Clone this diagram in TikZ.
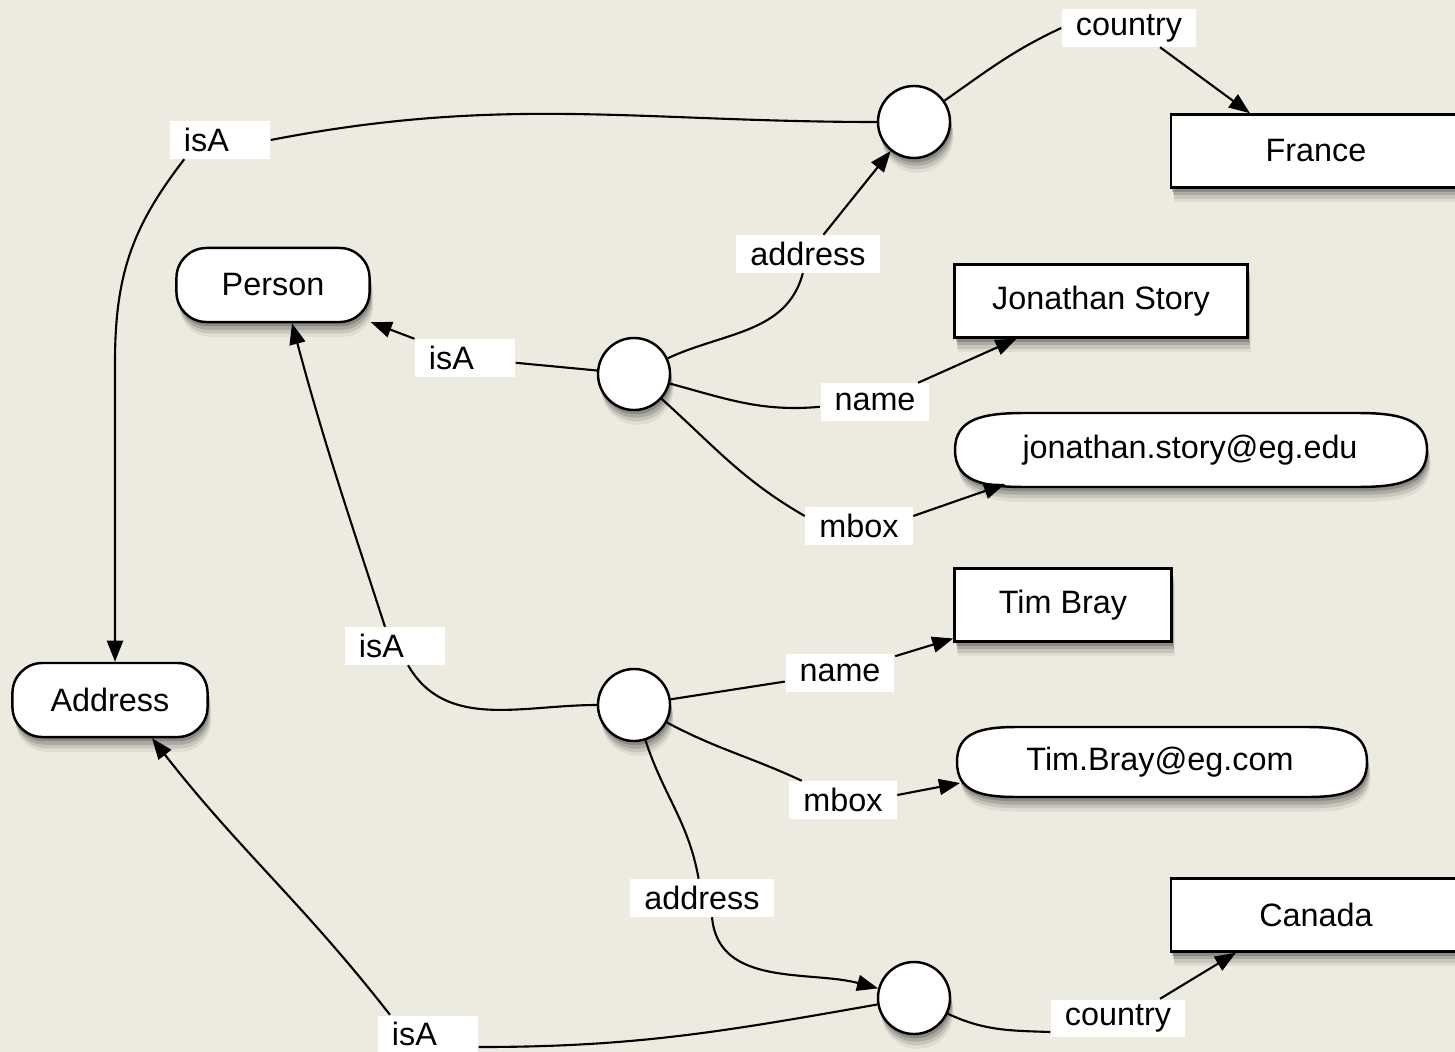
\documentclass[tikz,border=0pt]{standalone}
\usepackage{fontspec}
\setmainfont{Liberation Sans}
\usetikzlibrary{arrows.meta,shadows,calc}
\definecolor{paper}{RGB}{237,234,224}

% rounded pill outline round a centre: #1 centre, #2 half width, #3 half height, #4 end length
\newcommand{\pillpath}[4]{%
  \draw[pill] ($(#1)+(-#2,0)$)
    .. controls ($(#1)+(-#2,-0.85*#3)$) and ($(#1)+(-#2+0.4*#4,-#3)$) .. ($(#1)+(-#2+#4,-#3)$)
    -- ($(#1)+(#2-#4,-#3)$)
    .. controls ($(#1)+(#2-0.4*#4,-#3)$) and ($(#1)+(#2,-0.85*#3)$) .. ($(#1)+(#2,0)$)
    .. controls ($(#1)+(#2,0.85*#3)$) and ($(#1)+(#2-0.4*#4,#3)$) .. ($(#1)+(#2-#4,#3)$)
    -- ($(#1)+(-#2+#4,#3)$)
    .. controls ($(#1)+(-#2+0.4*#4,#3)$) and ($(#1)+(-#2,0.85*#3)$) .. ($(#1)+(-#2,0)$) -- cycle;}

\begin{document}
\begin{tikzpicture}[x=0.01cm, y=-0.01cm, font=\fontsize{9.2}{11}\selectfont,
  shady/.style={drop shadow={shadow xshift=1pt,shadow yshift=-4.2pt,opacity=0.06,fill=black},
                drop shadow={shadow xshift=0.8pt,shadow yshift=-3.2pt,opacity=0.1,fill=black},
                drop shadow={shadow xshift=0.6pt,shadow yshift=-2.2pt,opacity=0.14,fill=black},
                drop shadow={shadow xshift=0.4pt,shadow yshift=-1.2pt,opacity=0.18,fill=black}},
  class/.style={draw, fill=white, line width=0.7pt, rounded corners=0.3cm, shady, minimum height=0.74cm},
  literal/.style={draw, fill=white, line width=0.7pt, shady, minimum height=0.73cm},
  blanknode/.style={circle, draw, fill=white, line width=0.7pt, shady, minimum size=0.72cm, inner sep=0pt},
  pill/.style={draw, fill=white, line width=0.7pt, shady},
  prop/.style={fill=white, inner xsep=0.14cm, inner ysep=0pt, minimum height=0.37cm},
  isa/.style={prop, text width=0.72cm, align=left},
  wire/.style={line width=0.6pt},
  wirearrow/.style={wire, -{Triangle[length=0.21cm,width=0.16cm]}}]

\fill[paper] (0,0) rectangle (1455,1052);
\useasboundingbox (0,0) rectangle (1455,1052);

% classes and values
\node[class, minimum width=1.93cm] (person) at (273,285) {Person};
\node[class, minimum width=1.95cm] (address) at (110,700) {Address};
\node[literal, minimum width=2.9cm] (france) at (1316,151) {France};
\node[literal, minimum width=2.93cm] (jon) at (1101,301) {Jonathan Story};
\node[literal, minimum width=2.17cm] (tim) at (1063,605) {Tim Bray};
\node[literal, minimum width=2.9cm] (canada) at (1316,915) {Canada};
\coordinate (mailJc) at (1191,450);
\pillpath{mailJc}{236}{37}{70}
\node (mailJ) at (1190,450) {jonathan.story@eg.edu};
\coordinate (mailTc) at (1162,762);
\pillpath{mailTc}{205}{35}{60}
\node (mailT) at (1160,762) {Tim.Bray@eg.com};

% blank nodes
\node[blanknode] (hubA) at (914,122) {};
\node[blanknode] (hubJ) at (634,374) {};
\node[blanknode] (hubT) at (634,705) {};
\node[blanknode] (hubC) at (914,998) {};

% property labels
\node[prop] (lCountryA) at (1129,28) {country};
\node[isa] (lIsaA) at (220,140) {isA};
\node[prop] (lAddrJ) at (808,254) {address};
\node[isa] (lIsaJ) at (465,358) {isA};
\node[prop] (lNameJ) at (875,402) {name};
\node[prop] (lMboxJ) at (859,526) {mbox};
\node[isa] (lIsaT) at (395,646) {isA};
\node[prop] (lNameT) at (840,673) {name};
\node[prop] (lMboxT) at (843,800) {mbox};
\node[prop] (lAddrT) at (702,898) {address};
\node[prop] (lCountryC) at (1118,1018) {country};
\node[isa] (lIsaC) at (428,1034) {isA};

% top address
\draw[wire] (hubA) to[out=180,in=11] (lIsaA.east);
\draw[wirearrow] ([xshift=0.15cm]lIsaA.south west) .. controls +(-50,65) and +(0,-90) .. ([xshift=0.05cm,yshift=3cm]address.north) -- ([xshift=0.05cm]address.north);
\draw[wire] (hubA) to[out=35,in=205] (lCountryA.west);
\draw[wirearrow] ([xshift=0.31cm]lCountryA.south) -- ([xshift=-0.66cm]france.north);

% Jonathan Story
\draw[wire] (hubJ) -- (lIsaJ);
\draw[wirearrow] (lIsaJ) -- (person);
\draw[wire] (hubJ) to[out=25,in=255] (lAddrJ);
\draw[wirearrow] (lAddrJ) -- (hubA);
\draw[wire] (hubJ) to[out=-15,in=185] (lNameJ);
\draw[wirearrow] (lNameJ) -- (jon);
\draw[wire] (hubJ) to[out=-42,in=150] ([yshift=0.1cm]lMboxJ.west);
\draw[wirearrow] ([yshift=0.1cm]lMboxJ.east) -- ($(mailJc)+(-186,34)$);

% Tim Bray
\draw[wire] (hubT) to[out=180,in=-60] ([xshift=0.13cm]lIsaT.south);
\draw[wirearrow] ([xshift=-0.1cm]lIsaT.north) to[out=108,in=-75] ([xshift=0.19cm]person.south);
\draw[wire] (hubT) -- (lNameT);
\draw[wirearrow] (lNameT) -- (tim);
\draw[wire] (hubT) to[out=-28,in=155] (lMboxT);
\draw[wirearrow] ([yshift=0.05cm]lMboxT.east) -- ($(mailTc)+(-202,21)$);
\draw[wire] (hubT) to[out=-72,in=100] (lAddrT);
\draw[wirearrow] ([xshift=0.1cm]lAddrT.south) to[out=-85,in=165] (hubC);

% bottom address
\draw[wire] (hubC) to[out=190,in=0] ([yshift=-0.13cm]lIsaC.east);
\draw[wirearrow] ([xshift=-0.38cm]lIsaC.north) to[out=128,in=-52] ([xshift=0.42cm]address.south);
\draw[wire] (hubC) to[out=-25,in=178] ([yshift=-0.14cm]lCountryC.west);
\draw[wirearrow] ([xshift=0.42cm]lCountryC.north) -- ([xshift=-0.8cm]canada.south);

\end{tikzpicture}
\end{document}
